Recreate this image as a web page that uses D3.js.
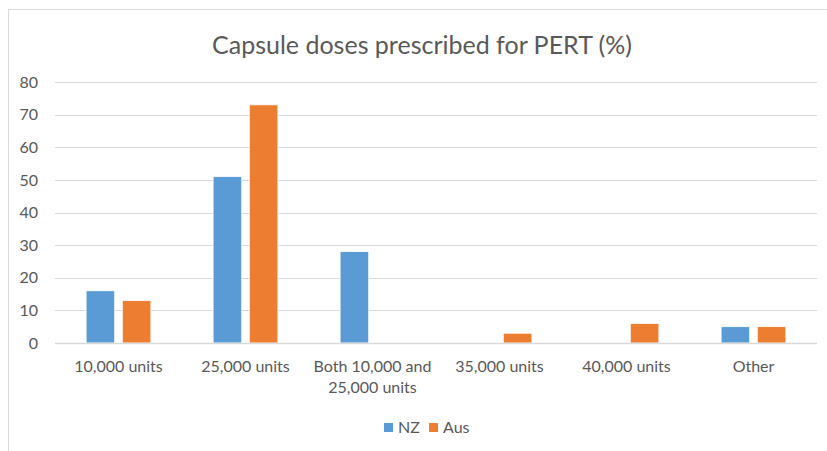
<!DOCTYPE html>
<html lang="en">
<head>
<meta charset="UTF-8">
<title>Capsule doses prescribed for PERT (%)</title>
<style>
  body { margin: 0; background: #fff; }
  svg { display: block; font-family: Lato, "Open Sans", sans-serif; }
</style>
<script src="https://cdn.jsdelivr.net/npm/d3@7"></script>
</head>
<body>
<div id="chart"></div>
<script>
// data
const categories = ["10,000 units", "25,000 units", "Both 10,000 and 25,000 units", "35,000 units", "40,000 units", "Other"];
const seriesNames = ["NZ", "Aus"];
const nzValues = [16, 51, 28, 0, 0, 5];
const ausValues = [13, 73, 0, 3, 6, 5];
const yTicks = [0, 10, 20, 30, 40, 50, 60, 70, 80];
const colors = ["#5b9bd5", "#ed7d31"];

const width = 827, height = 451;
const margin = { top: 82, right: 10, bottom: 108, left: 55 };
const plotW = width - margin.left - margin.right;
const plotH = height - margin.top - margin.bottom;

const svg = d3.select("#chart").append("svg")
  .attr("width", width)
  .attr("height", height);

// chart border
svg.append("rect")
  .attr("x", 8.5).attr("y", 9.5)
  .attr("width", 830).attr("height", 460)
  .attr("fill", "none")
  .attr("stroke", "#d9d9d9");

svg.append("text")
  .attr("x", 422).attr("y", 54)
  .attr("text-anchor", "middle")
  .attr("font-size", "25px")
  .attr("fill", "#595959")
  .text("Capsule doses prescribed for PERT (%)");

const g = svg.append("g").attr("transform", `translate(${margin.left},${margin.top})`);

const x = d3.scaleBand().domain(categories).range([0, plotW]);
const xInner = d3.scaleBand().domain(seriesNames).range([0, 0]);
const y = d3.scaleLinear().domain([0, 80]).range([plotH, 0]);

// group width ~ 51% of band
const groupW = x.bandwidth() * 0.51;
xInner.range([(x.bandwidth() - groupW) / 2, (x.bandwidth() + groupW) / 2]).paddingInner(0.21);

// gridlines
g.append("g")
  .selectAll("line")
  .data(yTicks.slice(1))
  .join("line")
  .attr("x1", 0).attr("x2", plotW)
  .attr("y1", d => Math.round(y(d)) + 0.5)
  .attr("y2", d => Math.round(y(d)) + 0.5)
  .attr("stroke", "#d9d9d9")
  .attr("stroke-width", 1);

// y axis labels
const yAxis = g.append("g")
  .call(d3.axisLeft(y).tickValues(yTicks).tickSize(0).tickPadding(17));
yAxis.select(".domain").remove();
yAxis.selectAll("text")
  .attr("font-family", "Lato, 'Open Sans', sans-serif")
  .attr("font-size", "16px")
  .attr("fill", "#595959");

// bars
const data = categories.map((c, i) => ({ cat: c, vals: [nzValues[i], ausValues[i]] }));
const groups = g.selectAll(".grp")
  .data(data)
  .join("g")
  .attr("class", "grp")
  .attr("transform", d => `translate(${x(d.cat)},0)`);

groups.selectAll("rect")
  .data(d => d.vals.map((v, j) => ({ s: seriesNames[j], v, j })))
  .join("rect")
  .filter(d => d.v > 0)
  .attr("x", d => xInner(d.s))
  .attr("y", d => y(d.v))
  .attr("width", xInner.bandwidth())
  .attr("height", d => y(0) - y(d.v))
  .attr("fill", d => colors[d.j])
  .attr("stroke", "#fff")
  .attr("stroke-width", 0.75);

// x axis line
g.append("line")
  .attr("x1", 0).attr("x2", plotW)
  .attr("y1", y(0) + 0.5).attr("y2", y(0) + 0.5)
  .attr("stroke", "#d9d9d9")
  .attr("stroke-width", 1.5);

// x labels (wrap long one)
const wrap = {
  "Both 10,000 and 25,000 units": ["Both 10,000 and", "25,000 units"]
};
const xl = g.append("g").selectAll("text")
  .data(categories)
  .join("text")
  .attr("x", d => x(d) + x.bandwidth() / 2)
  .attr("y", plotH + 29)
  .attr("text-anchor", "middle")
  .attr("font-size", "16px")
  .attr("fill", "#595959");
xl.each(function(d) {
  const lines = wrap[d] || [d];
  d3.select(this).selectAll("tspan")
    .data(lines)
    .join("tspan")
    .attr("x", x(d) + x.bandwidth() / 2)
    .attr("dy", (l, i) => i === 0 ? 0 : 21)
    .text(l => l);
});

// legend
const legend = svg.append("g").attr("transform", "translate(384,433)");
const items = legend.selectAll("g")
  .data(seriesNames)
  .join("g")
  .attr("transform", (d, i) => `translate(${i * 45},0)`);
items.append("rect")
  .attr("x", 0).attr("y", -10)
  .attr("width", 9).attr("height", 9)
  .attr("fill", (d, i) => colors[i]);
items.append("text")
  .attr("x", 14).attr("y", 0)
  .attr("font-size", "16px")
  .attr("fill", "#595959")
  .text(d => d);
</script>
</body>
</html>
